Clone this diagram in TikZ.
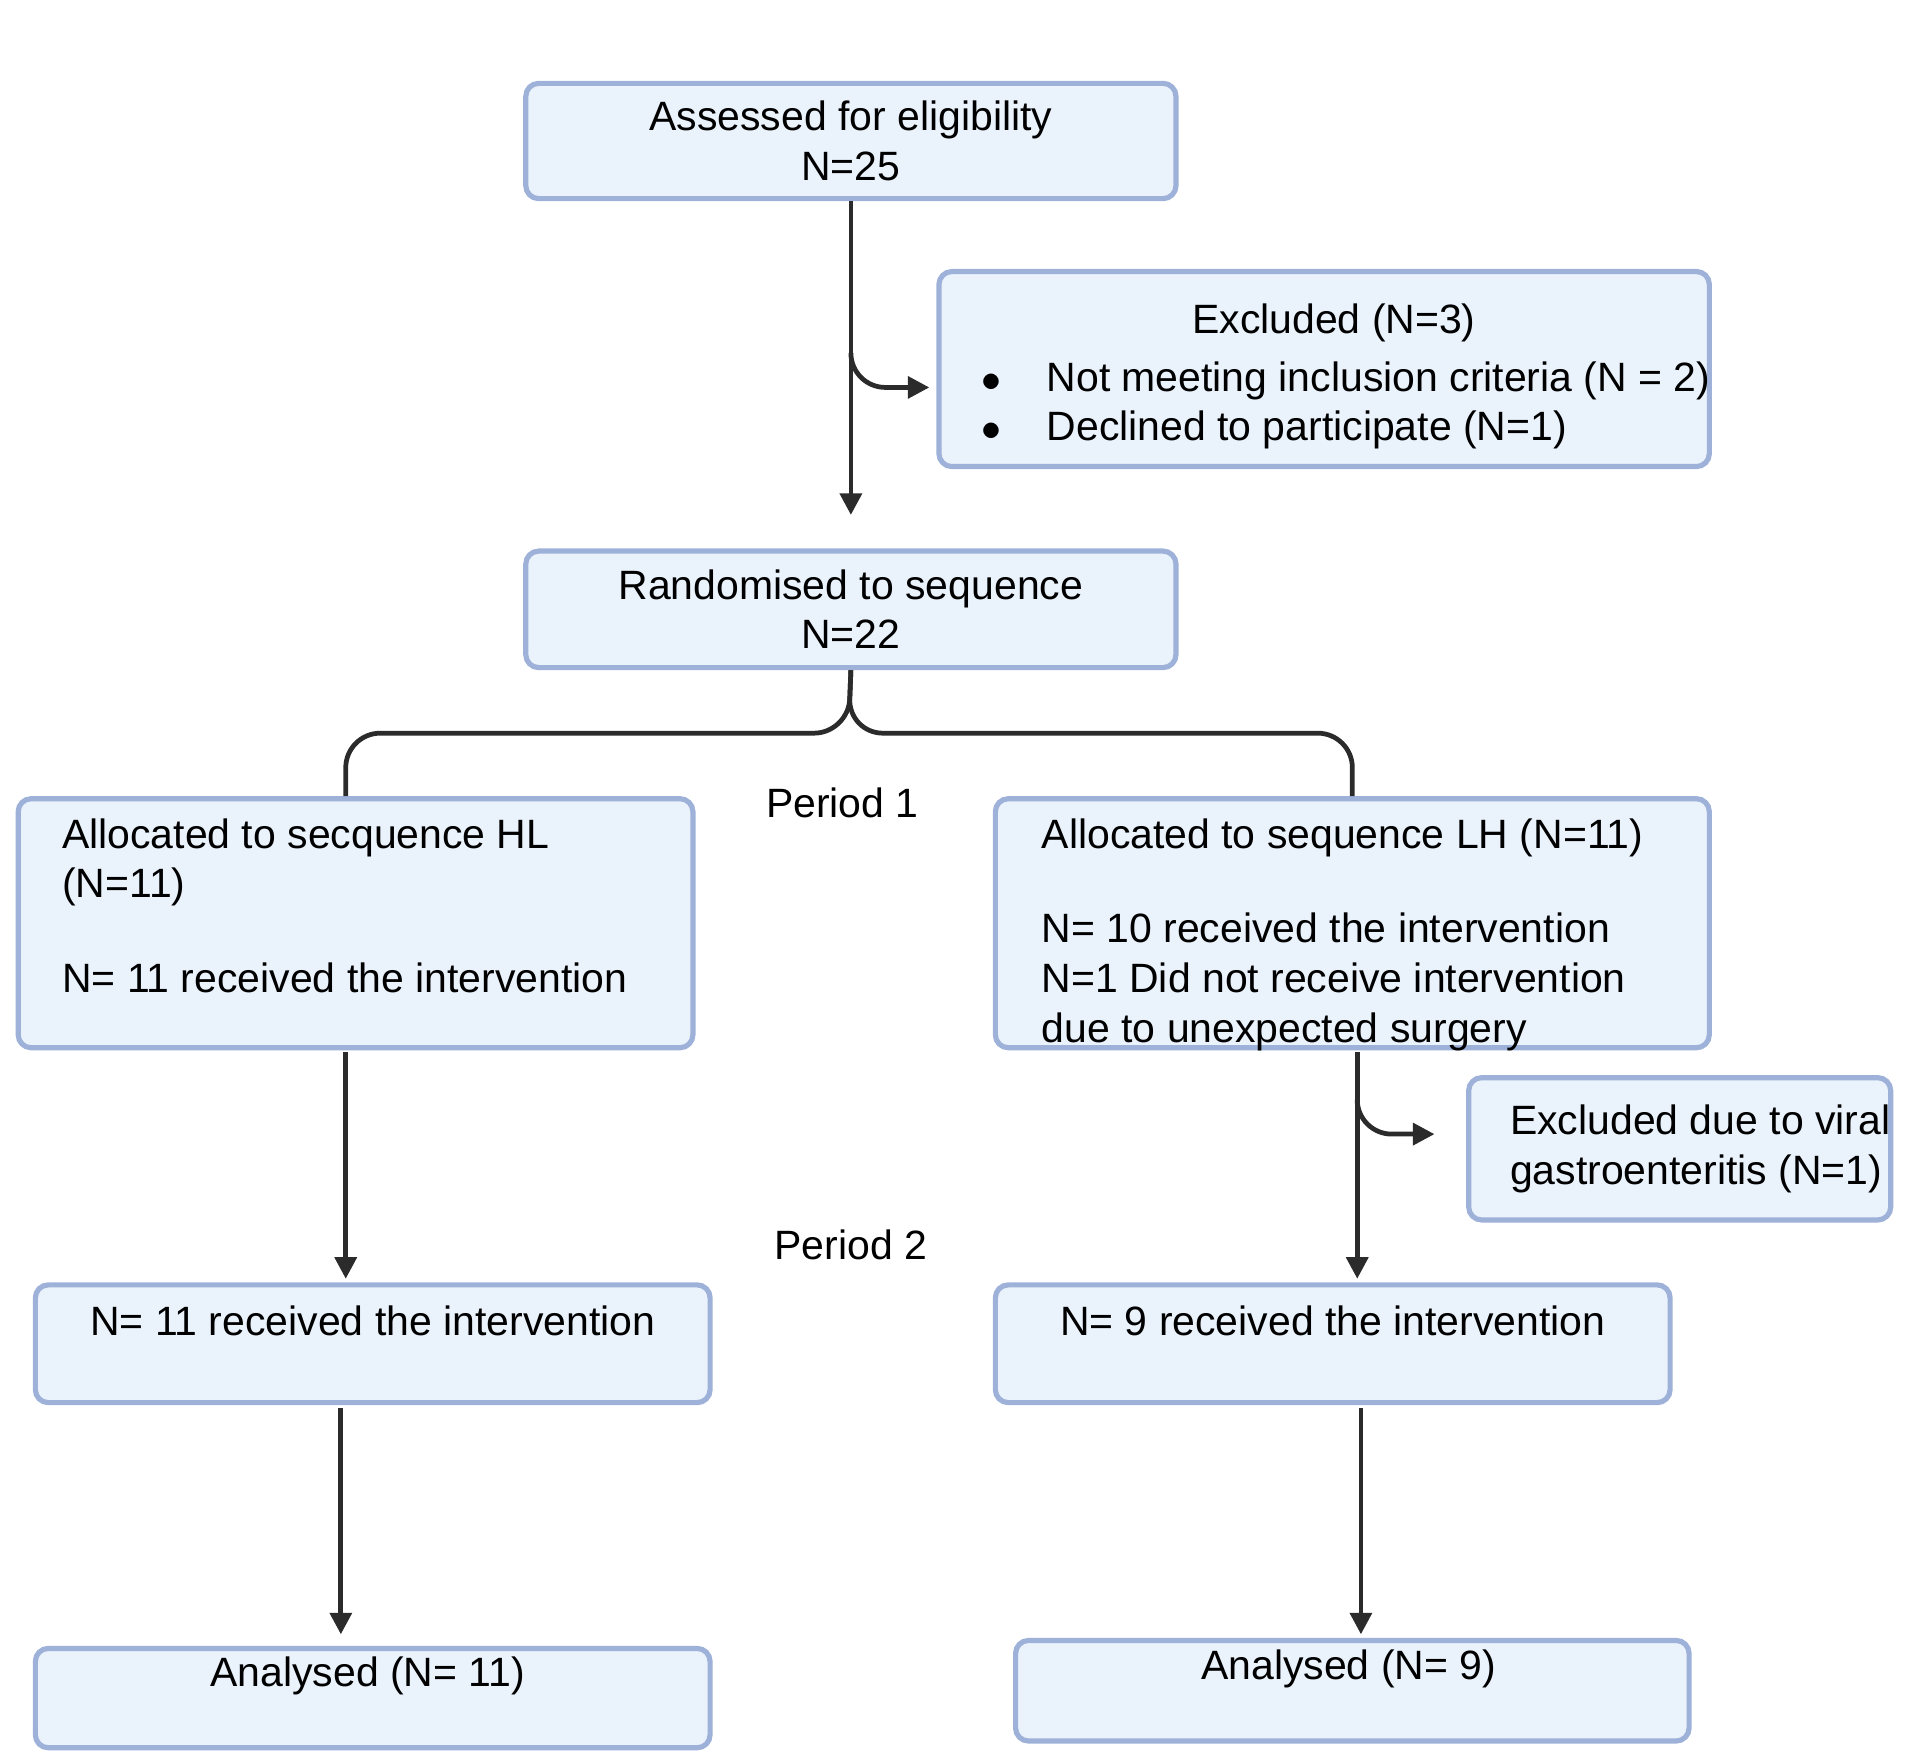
\documentclass[tikz,border=0pt]{standalone}
\usepackage{fontspec}
\setmainfont{Liberation Sans}
\usetikzlibrary{positioning,arrows.meta}
\definecolor{boxfill}{HTML}{EAF2FC}
\definecolor{boxline}{HTML}{9DB1D9}
\definecolor{linecol}{HTML}{2B2B2B}
\tikzset{
  box/.style={draw=boxline, fill=boxfill, line width=1.2pt, rounded corners=3pt, inner sep=0pt},
  txt/.style={align=left, inner sep=0pt, font=\fontsize{9.5}{11.5}\selectfont},
  flow/.style={draw=linecol, line width=1.1pt, -{Triangle[length=5pt,width=5pt]}},
  link/.style={draw=linecol, line width=1.1pt, rounded corners=8pt}
}
\begin{document}
\begin{tikzpicture}[x=0.01cm,y=-0.01cm]
\useasboundingbox (0,0) rectangle (1566,1430);

% boxes
\node[box, minimum width=5.30cm, minimum height=0.94cm] (assess) at (694,115) {};
\node[box, minimum width=6.28cm, minimum height=1.59cm] (excl) at (1080,301) {};
\node[box, minimum width=5.30cm, minimum height=0.95cm] (rand) at (694,497) {};
\node[box, minimum width=5.50cm, minimum height=2.03cm] (hl) at (290,753) {};
\node[box, minimum width=5.82cm, minimum height=2.03cm] (lh) at (1103,753) {};
\node[box, minimum width=3.44cm, minimum height=1.16cm] (viral) at (1370,937) {};
\node[box, minimum width=5.50cm, minimum height=0.96cm] (hlrec) at (304,1096) {};
\node[box, minimum width=5.50cm, minimum height=0.96cm] (lhrec) at (1087,1096) {};
\node[box, minimum width=5.50cm, minimum height=0.81cm] (hlana) at (304,1385) {};
\node[box, minimum width=5.49cm, minimum height=0.82cm] (lhana) at (1103,1379) {};

% texts
\node[txt, align=center] at (assess) {Assessed for eligibility\\N=25};
\node[txt, anchor=north] (excltitle) at (1088,247) {Excluded (N=3)};
\node[txt, anchor=north west] (excllist) at (800,294) {$\bullet$\hspace{1.1em}Not meeting inclusion criteria (N = 2)\\$\bullet$\hspace{1.1em}Declined to participate (N=1)};
\node[txt, align=center] at (rand) {Randomised to sequence\\N=22};
\node[txt, anchor=north west] (hltxt) at (50,667) {Allocated to secquence HL\\(N=11)\\[1.1em]N= 11 received the intervention};
\node[txt, anchor=north west] (lhtxt) at (849,667) {Allocated to sequence LH (N=11)\\[1.1em]N= 10 received the intervention\\N=1 Did not receive intervention\\due to unexpected surgery};
\node[txt, anchor=west] (viraltxt) at (1231,937) {Excluded due to viral\\gastroenteritis (N=1)};
\node[txt, anchor=north] (hlrectxt) at (304,1064) {N= 11 received the intervention};
\node[txt, anchor=north] (lhrectxt) at (1087,1064) {N= 9 received the intervention};
\node[txt] (hlanatxt) at (300,1367) {Analysed (N= 11)};
\node[txt] (lhanatxt) at (1100,1361) {Analysed (N= 9)};
\node[txt] (per1) at (687,655) {Period 1};
\node[txt] (per2) at (694,1015) {Period 2};

% connectors
\coordinate (a1) at (694,420);
\coordinate (b1) at (694,290);
\coordinate (b2) at (758,316);
\draw[flow] (assess.south) -- (a1);
\draw[flow, rounded corners=8pt] (b1) |- (b2);
\coordinate (r1) at (692,598);
\draw[link] (rand.south) -- (r1) -| (hl.north -| 282,0);
\draw[link] (rand.south) -- (r1) -| (lh.north);
\draw[flow] (282,858) -- (282,1043);
\draw[flow] (1107,858) -- (1107,1043);
\draw[flow, rounded corners=8pt] (1107,900) |- (1170,925);
\draw[flow] (278,1148) -- (278,1333);
\draw[flow] (1110,1148) -- (1110,1333);
\end{tikzpicture}
\end{document}
